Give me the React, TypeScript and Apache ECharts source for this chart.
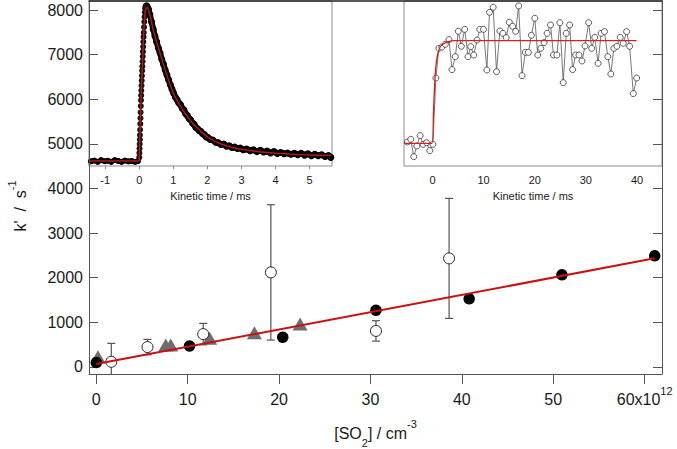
import React, { useEffect, useRef } from "react";
import * as echarts from "echarts";

// ---------------- main panel data ----------------
const so2Black = [0, 10.2, 20.4, 30.6, 40.8, 50.95, 61.1];
const kBlack = [96, 470, 666, 1271, 1525, 2063, 2489];

const so2Open = [1.64, 5.6, 11.7, 19.1, 30.6, 38.6];
const kOpen = [114, 444, 735, 2118, 806, 2432];
const kOpenErr = [413, 172, 240, 1518, 228, 1345];

const so2Tri = [0.18, 7.6, 8.14, 12.4, 17.3, 22.3];
const kTri = [226, 489, 489, 639, 765, 960];

const fitSo2 = [0, 61.1];
const fitK = [63, 2433];

const mainXTicks = [0, 10, 20, 30, 40, 50, 60];
const mainYTicks = [0, 1000, 2000, 3000, 4000, 5000, 6000, 7000, 8000];

// ---------------- inset A (left) ----------------
const insetABaseT = [-1.42, -1.32, -1.22, -1.12, -1.02, -0.92, -0.82, -0.72, -0.62, -0.52, -0.42, -0.32, -0.22, -0.12, -0.04];
const insetABaseV = [4610, 4630, 4600, 4640, 4615, 4625, 4600, 4640, 4620, 4600, 4630, 4610, 4620, 4600, 4615];

const insetARiseT = [0.0, 0.004, 0.008, 0.012, 0.016, 0.02, 0.025, 0.03, 0.035, 0.04, 0.045, 0.05, 0.055, 0.06, 0.066, 0.072, 0.078, 0.084, 0.09, 0.096, 0.102, 0.108, 0.114, 0.12, 0.126, 0.132, 0.14, 0.148, 0.156, 0.164, 0.174, 0.186, 0.2];
const insetARiseV = [4700, 4800, 4900, 5000, 5100, 5200, 5320, 5450, 5580, 5710, 5850, 5980, 6090, 6200, 6310, 6420, 6530, 6640, 6740, 6850, 6960, 7070, 7180, 7290, 7400, 7500, 7620, 7740, 7850, 7950, 8040, 8090, 8100];

const insetADecayT = [0.215, 0.23, 0.27, 0.31, 0.36, 0.41, 0.46, 0.51, 0.56, 0.61, 0.66, 0.71, 0.76, 0.81, 0.86, 0.91, 0.96, 1.01, 1.06, 1.11, 1.16, 1.21, 1.26, 1.31, 1.36, 1.41, 1.46, 1.51, 1.56, 1.61, 1.66, 1.71, 1.76, 1.81, 1.86, 1.91, 1.96, 2.01, 2.08, 2.16, 2.24, 2.32, 2.4, 2.48, 2.56, 2.64, 2.72, 2.8, 2.88, 2.96, 3.05, 3.15, 3.25, 3.35, 3.45, 3.55, 3.65, 3.75, 3.85, 3.95, 4.05, 4.15, 4.25, 4.35, 4.45, 4.55, 4.65, 4.75, 4.85, 4.95, 5.05, 5.15, 5.25, 5.35, 5.45, 5.55, 5.62];
const insetADecayV = [8100, 8080, 8020, 7900, 7740, 7570, 7420, 7290, 7150, 7040, 6900, 6790, 6660, 6550, 6440, 6330, 6230, 6140, 6050, 5990, 5920, 5880, 5800, 5760, 5680, 5640, 5570, 5540, 5470, 5440, 5370, 5340, 5300, 5280, 5230, 5210, 5160, 5150, 5100, 5090, 5040, 5030, 4990, 5000, 4950, 4960, 4920, 4930, 4900, 4910, 4870, 4890, 4850, 4870, 4830, 4860, 4820, 4840, 4800, 4830, 4790, 4810, 4780, 4800, 4770, 4790, 4760, 4790, 4750, 4780, 4740, 4770, 4740, 4760, 4720, 4740, 4700];

const insetAFitT = [-1.45, -0.01, 0.0, 0.05, 0.09, 0.13, 0.17, 0.2, 0.23, 0.3, 0.41, 0.51, 0.61, 0.71, 0.81, 0.9, 1.0, 1.1, 1.2, 1.3, 1.4, 1.5, 1.6, 1.7, 1.8, 1.9, 2.0, 2.2, 2.4, 2.6, 2.8, 3.0, 3.3, 3.6, 4.0, 4.4, 4.8, 5.2, 5.62];
const insetAFitV = [4620, 4620, 4680, 5986, 6731, 7480, 7940, 8050, 8060, 7930, 7560, 7290, 7035, 6780, 6550, 6340, 6140, 5990, 5860, 5740, 5630, 5530, 5440, 5360, 5290, 5220, 5160, 5070, 5000, 4950, 4910, 4880, 4850, 4820, 4795, 4775, 4760, 4750, 4740];

const insetATicks = [-1, 0, 1, 2, 3, 4, 5];

// ---------------- inset B (right) ----------------
const insetBT = [-4.91, -4.25, -3.66, -3.07, -2.42, -1.83, -1.17, -0.52, 0.07, 0.66, 1.25, 1.84, 2.5, 3.22, 3.81, 4.46, 5.05, 5.64, 6.3, 6.95, 7.48, 8.07, 8.72, 9.25, 9.97, 10.63, 11.15, 11.87, 12.52, 13.18, 13.77, 14.42, 15.02, 15.67, 16.26, 16.85, 17.51, 18.17, 18.75, 19.34, 20.0, 20.59, 21.18, 21.83, 22.42, 23.08, 23.67, 24.33, 24.92, 25.57, 26.16, 26.82, 27.41, 28.0, 28.65, 29.24, 29.83, 30.55, 31.14, 31.73, 32.39, 32.98, 33.63, 34.29, 34.88, 35.47, 36.06, 36.72, 37.31, 37.97, 38.56, 39.28, 39.93];
const insetBS = [0.013, 0.039, -0.13, -0.026, 0.075, -0.01, 0.006, -0.071, -0.01, 0.636, 0.925, 0.938, 0.964, 1.01, 0.718, 0.844, 1.091, 0.945, 1.11, 0.844, 0.942, 0.86, 1.006, 1.11, 1.11, 0.714, 1.276, 1.325, 0.698, 1.094, 1.071, 1.029, 1.179, 1.14, 1.091, 1.338, 0.659, 0.886, 0.886, 1.052, 1.218, 0.86, 0.925, 0.981, 1.071, 1.153, 0.86, 0.86, 1.175, 0.591, 1.071, 1.153, 0.718, 0.86, 0.86, 0.802, 0.948, 1.175, 0.925, 1.032, 0.779, 1.071, 1.088, 0.844, 0.675, 0.925, 0.945, 1.032, 0.974, 1.088, 0.945, 0.484, 0.636];

const insetBFitT = [-5.5, -0.12, 0.2, 0.4, 0.66, 0.99, 1.51, 2.17, 3.15, 4.1, 39.9];
const insetBFitS = [0, 0, 0.32, 0.55, 0.75, 0.86, 0.94, 0.97, 0.99, 1.0, 1.0];

const insetBTicks = [0, 10, 20, 30, 40];

const FONT = "'Liberation Sans', Arial, Helvetica, sans-serif";
const TXT = "#1a1a1a";
const AX = "#555";

function zip(a: number[], b: number[]) {
  return a.map((v, i) => [v, b[i]]);
}

export default function App() {
  const ref = useRef<HTMLDivElement>(null);

  useEffect(() => {
    if (!ref.current) return;
    const chart = echarts.init(ref.current, null, { renderer: "svg" });

    const errData = so2Open.map((x, i) => [x, kOpen[i] - kOpenErr[i], kOpen[i] + kOpenErr[i]]);

    const option: any = {
      animation: false,
      backgroundColor: "#fff",
      textStyle: { fontFamily: FONT },
      grid: [
        { left: 89, right: 15, top: 1, bottom: 75, show: false, containLabel: false, outerBoundsMode: "none" },
        { left: 89, top: 1, width: 243, height: 165, show: true, borderColor: "#8a8a8a", borderWidth: 1, backgroundColor: "transparent", containLabel: false, outerBoundsMode: "none" },
        { left: 404, top: 1, width: 258, height: 165, show: true, borderColor: "#8a8a8a", borderWidth: 1, backgroundColor: "transparent", containLabel: false, outerBoundsMode: "none" },
      ],
      xAxis: [
        {
          gridIndex: 0,
          type: "value",
          position: "bottom",
          min: -0.8,
          max: 61.9,
          z: 5,
          axisLine: { show: true, onZero: false, lineStyle: { color: AX, width: 1 } },
          axisTick: { show: true, inside: false, length: 10, customValues: mainXTicks, lineStyle: { color: AX } },
          splitLine: { show: false },
          axisLabel: {
            customValues: mainXTicks,
            margin: 11,
            color: TXT,
            fontFamily: FONT,
            formatter: (v: number) => (v === 60 ? "{n|60x10}{s|12}" : "{n|" + String(v) + "}"),
            rich: {
              n: { fontSize: 16, lineHeight: 28, fontFamily: FONT, color: TXT },
              s: { fontSize: 11, lineHeight: 8, verticalAlign: "top", fontFamily: FONT, color: TXT },
            },
          },
          name: "{t|[SO}{sub|2}{t|] / cm}{sup|-3}",
          nameLocation: "middle",
          nameGap: 44,
          nameTextStyle: {
            color: TXT,
            fontFamily: FONT,
            rich: {
              t: { fontSize: 16, lineHeight: 30, fontFamily: FONT, color: TXT },
              sub: { fontSize: 11, lineHeight: 20, verticalAlign: "bottom", fontFamily: FONT, color: TXT },
              sup: { fontSize: 11, lineHeight: 6, verticalAlign: "top", fontFamily: FONT, color: TXT },
            },
          },
        },
        {
          gridIndex: 0,
          type: "value",
          position: "top",
          min: -0.8,
          max: 61.9,
          z: 5,
          axisLine: { show: true, onZero: false, lineStyle: { color: "#222", width: 1.5 } },
          axisTick: { show: false },
          axisLabel: { show: false },
          splitLine: { show: false },
        },
        {
          gridIndex: 1,
          type: "value",
          min: -1.475,
          max: 5.655,
          axisLine: { show: false, onZero: false },
          axisTick: { show: true, length: 3, customValues: insetATicks, lineStyle: { color: "#8a8a8a" } },
          splitLine: { show: false },
          axisLabel: { customValues: insetATicks, fontSize: 11, margin: 8, color: TXT, fontFamily: FONT, formatter: (v: number) => String(v) },
          name: "Kinetic time / ms",
          nameLocation: "middle",
          nameGap: 24,
          nameTextStyle: { fontSize: 11, color: TXT, fontFamily: FONT },
        },
        {
          gridIndex: 2,
          type: "value",
          min: -5.575,
          max: 44.89,
          axisLine: { show: false, onZero: false },
          axisTick: { show: false },
          splitLine: { show: false },
          axisLabel: { customValues: insetBTicks, fontSize: 11, margin: 8, color: TXT, fontFamily: FONT, formatter: (v: number) => String(v) },
          name: "Kinetic time / ms",
          nameLocation: "middle",
          nameGap: 24,
          nameTextStyle: { fontSize: 11, color: TXT, fontFamily: FONT },
        },
      ],
      yAxis: [
        {
          gridIndex: 0,
          type: "value",
          position: "left",
          min: -160,
          max: 8203,
          z: 5,
          axisLine: { show: true, onZero: false, lineStyle: { color: AX, width: 1 } },
          axisTick: { show: true, inside: true, length: 9, customValues: mainYTicks, lineStyle: { color: AX } },
          splitLine: { show: false },
          axisLabel: { customValues: mainYTicks, fontSize: 16, margin: 6, color: TXT, fontFamily: FONT, formatter: (v: number) => String(v) },
        },
        {
          gridIndex: 0,
          type: "value",
          position: "right",
          min: -160,
          max: 8203,
          z: 5,
          axisLine: { show: true, onZero: false, lineStyle: { color: AX, width: 1 } },
          axisTick: { show: true, inside: true, length: 9, customValues: mainYTicks, lineStyle: { color: AX } },
          splitLine: { show: false },
          axisLabel: { show: false },
        },
        {
          gridIndex: 1,
          type: "value",
          min: 4507,
          max: 8206,
          show: false,
          splitLine: { show: false },
        },
        {
          gridIndex: 2,
          type: "value",
          min: -0.2208,
          max: 1.386,
          show: false,
          splitLine: { show: false },
        },
      ],
      graphic: [
        {
          type: "text",
          x: 20,
          y: 206,
          rotation: Math.PI / 2,
          style: {
            text: "{a|k'  /  s}{b|-1}",
            align: "center",
            verticalAlign: "middle",
            fill: TXT,
            rich: {
              a: { fontSize: 16, lineHeight: 28, fontFamily: FONT, fill: TXT },
              b: { fontSize: 11, lineHeight: 6, verticalAlign: "top", fontFamily: FONT, fill: TXT },
            },
          },
        },
      ],
      series: [
        // ---- inset A ----
        {
          type: "line",
          xAxisIndex: 2,
          yAxisIndex: 2,
          data: zip(insetABaseT, insetABaseV),
          symbol: "circle",
          symbolSize: 6,
          itemStyle: { color: "#000" },
          lineStyle: { color: "#000", width: 5 },
          z: 2,
        },
        {
          type: "line",
          xAxisIndex: 2,
          yAxisIndex: 2,
          data: zip(insetADecayT, insetADecayV),
          symbol: "circle",
          symbolSize: 7,
          itemStyle: { color: "#000" },
          lineStyle: { color: "#000", width: 6 },
          z: 2,
        },
        {
          type: "scatter",
          xAxisIndex: 2,
          yAxisIndex: 2,
          data: zip(insetARiseT, insetARiseV),
          symbol: "circle",
          symbolSize: 6,
          itemStyle: { color: "#111", opacity: 1 },
          z: 2,
        },
        {
          type: "line",
          xAxisIndex: 2,
          yAxisIndex: 2,
          data: zip(insetAFitT, insetAFitV),
          symbol: "none",
          smooth: 0.2,
          lineStyle: { color: "#b01818", width: 1.5 },
          z: 3,
        },
        // ---- inset B ----
        {
          type: "line",
          xAxisIndex: 3,
          yAxisIndex: 3,
          data: zip(insetBT, insetBS),
          symbol: "circle",
          symbolSize: 6,
          showAllSymbol: true,
          itemStyle: { color: "#fff", borderColor: "#333", borderWidth: 0.8 },
          lineStyle: { color: "#555", width: 0.8 },
          z: 2,
        },
        {
          type: "line",
          xAxisIndex: 3,
          yAxisIndex: 3,
          data: zip(insetBFitT, insetBFitS),
          symbol: "none",
          smooth: 0.3,
          lineStyle: { color: "#d42020", width: 1.3 },
          z: 3,
        },
        // ---- main panel ----
        {
          type: "scatter",
          xAxisIndex: 0,
          yAxisIndex: 0,
          data: zip(so2Tri, kTri),
          symbol: "triangle",
          symbolSize: [15, 13],
          itemStyle: { color: "#6e6e6e", opacity: 1 },
          z: 3,
        },
        {
          type: "custom",
          xAxisIndex: 0,
          yAxisIndex: 0,
          data: errData,
          clip: true,
          z: 4,
          renderItem: (params: any, api: any) => {
            const x = api.value(0);
            const lo = api.coord([x, api.value(1)]);
            const hi = api.coord([x, api.value(2)]);
            const st = { stroke: "#555", lineWidth: 1.2 };
            return {
              type: "group",
              children: [
                { type: "line", shape: { x1: lo[0], y1: lo[1], x2: hi[0], y2: hi[1] }, style: st },
                { type: "line", shape: { x1: hi[0] - 4, y1: hi[1], x2: hi[0] + 4, y2: hi[1] }, style: st },
                { type: "line", shape: { x1: lo[0] - 4, y1: lo[1], x2: lo[0] + 4, y2: lo[1] }, style: st },
              ],
            };
          },
        },
        {
          type: "scatter",
          xAxisIndex: 0,
          yAxisIndex: 0,
          data: zip(so2Open, kOpen),
          symbol: "circle",
          symbolSize: 11,
          itemStyle: { color: "#fff", borderColor: "#222", borderWidth: 1, opacity: 1 },
          z: 5,
        },
        {
          type: "scatter",
          xAxisIndex: 0,
          yAxisIndex: 0,
          data: zip(so2Black, kBlack),
          symbol: "circle",
          symbolSize: 11.5,
          itemStyle: { color: "#000", opacity: 1 },
          z: 6,
        },
        {
          type: "line",
          xAxisIndex: 0,
          yAxisIndex: 0,
          data: zip(fitSo2, fitK),
          symbol: "none",
          lineStyle: { color: "#cc1010", width: 2 },
          z: 7,
        },
      ],
    };

    chart.setOption(option);
    return () => chart.dispose();
  }, []);

  return (
    <div
      ref={ref}
      style={{ position: "absolute", left: 0, top: 0, width: 677, height: 449, background: "#fff" }}
    />
  );
}
